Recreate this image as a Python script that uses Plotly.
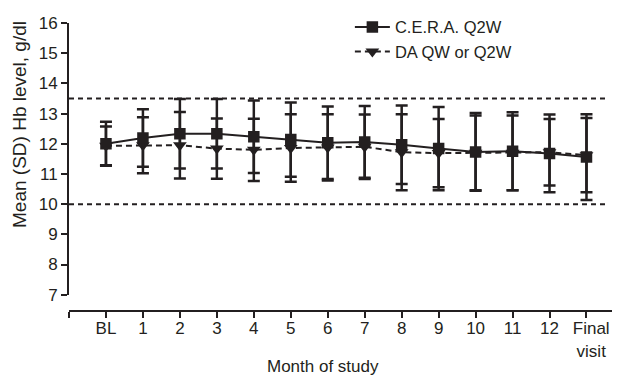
import plotly.graph_objects as go

# ---- data ----
months = ["BL", "1", "2", "3", "4", "5", "6", "7", "8", "9", "10", "11", "12", "Final<br>visit"]
cera_mean = [12.00, 12.19, 12.33, 12.33, 12.23, 12.14, 12.03, 12.06, 11.97, 11.84, 11.73, 11.75, 11.68, 11.56]
cera_sd = [0.73, 0.95, 1.15, 1.15, 1.20, 1.23, 1.20, 1.19, 1.30, 1.38, 1.29, 1.29, 1.29, 1.42]
da_mean = [11.93, 11.95, 11.95, 11.84, 11.80, 11.86, 11.88, 11.90, 11.72, 11.69, 11.70, 11.70, 11.72, 11.62]
da_sd = [0.64, 0.93, 1.10, 1.00, 1.03, 1.12, 1.10, 1.07, 1.26, 1.13, 1.24, 1.24, 1.10, 1.23]
ref_lines = [13.5, 10.0]
y_ticks = [7, 8, 9, 10, 11, 12, 13, 14, 15, 16]

INK = "#231f20"
FONT = "Liberation Sans, Arial, sans-serif"

pos = list(range(len(months)))
# the last label sits slightly right of its tick in the original
pad = "\u00a0" * 2
ticktext = [""] + months[:-1] + ["<br>".join(pad + part for part in months[-1].split("<br>"))]

fig = go.Figure()
fig.add_trace(go.Scatter(
    x=pos, y=da_mean, name="DA QW or Q2W", mode="lines+markers",
    line=dict(color=INK, width=2, dash="6px,4px"),
    marker=dict(symbol="triangle-down", size=12, color=INK),
    error_y=dict(type="data", array=da_sd, visible=True, color=INK, thickness=2.5, width=6),
))
fig.add_trace(go.Scatter(
    x=pos, y=cera_mean, name="C.E.R.A. Q2W", mode="lines+markers",
    line=dict(color=INK, width=2),
    marker=dict(symbol="square", size=11.5, color=INK),
    error_y=dict(type="data", array=cera_sd, visible=True, color=INK, thickness=2.5, width=6),
))

for v in ref_lines:
    fig.add_shape(type="line", xref="paper", x0=0, x1=0.9926, yref="y", y0=v, y1=v,
                  line=dict(color=INK, width=2, dash="5px,4px"))

fig.add_annotation(
    text="Mean (SD) Hb level, g/dl", textangle=-90,
    xref="paper", x=-0.0902, xanchor="center",
    yref="paper", y=0.646, yanchor="middle",
    showarrow=False, font=dict(family=FONT, size=19, color=INK),
)
fig.add_annotation(
    text="Month of study",
    xref="paper", x=0.4678, xanchor="center",
    yref="paper", y=-0.191, yanchor="middle",
    showarrow=False, font=dict(family=FONT, size=17, color=INK),
)

fig.update_layout(
    width=616, height=367,
    margin=dict(l=61, r=12, t=15, b=64, autoexpand=False),
    paper_bgcolor="white", plot_bgcolor="white",
    font=dict(family=FONT, size=17, color=INK),
    showlegend=True,
    legend=dict(
        xref="container", yref="container", x=0.555, y=0.995,
        xanchor="left", yanchor="top",
        traceorder="reversed", bgcolor="rgba(0,0,0,0)",
        font=dict(family=FONT, size=16.5, color=INK),
        itemwidth=35, tracegroupgap=0,
    ),
    xaxis=dict(
        domain=[0, 1], range=[-1.0, 13.69], anchor="free", position=0,
        tickmode="array", tickvals=[-1] + pos, ticktext=ticktext,
        ticks="outside", ticklen=6, tickwidth=2, tickcolor=INK,
        showline=True, linewidth=2, linecolor=INK,
        showgrid=False, zeroline=False, tickangle=0,
        ticklabelstandoff=-4,
        tickfont=dict(family=FONT, size=17, color=INK),
    ),
    yaxis=dict(
        domain=[0.0566, 1], range=[7, 16],
        tickmode="array", tickvals=y_ticks,
        ticks="outside", ticklen=6, tickwidth=2, tickcolor=INK,
        showline=True, linewidth=2, linecolor=INK,
        showgrid=False, zeroline=False,
        tickfont=dict(family=FONT, size=17, color=INK),
    ),
)

fig.write_html("out.html")
